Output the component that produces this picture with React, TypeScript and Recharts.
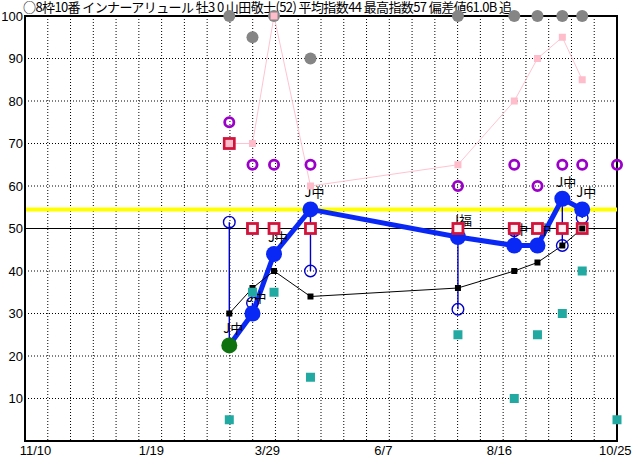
import React from 'react';
import { ComposedChart, Line, XAxis, YAxis, CartesianGrid, ReferenceLine, ReferenceArea } from 'recharts';

document.body.style.margin = '0';

const TITLE = '○8枠10番 インナーアリュール 牡3 0 山田敬士(52) 平均指数44 最高指数57 偏差値61.0B 追';

// x axis: days counted from 11/10
const xTicks = [0, 70, 140, 210, 280, 350];
const xTickLabels = ['11/10', '1/19', '3/29', '6/7', '8/16', '10/25'];
const yTicks = [10, 20, 30, 40, 50, 60, 70, 80, 90, 100];

const raceDays = [117, 131, 144, 166, 255, 289, 303, 318, 330, 351];
const mainIndex = [22.5, 30, 44, 54.5, 48, 46, 46, 57, 54.5, null];
const openIndex = [51.5, 32.5, null, 40, 31, 49.5, null, 46, 52.5, null];
const blackIndex = [30, 36, 40, 34, 36, 40, 42, 46, 50, null];
const redIndex = [70, 50, 50, 50, 50, 50, 50, 50, 50, null];
const pinkIndex = [70, 70, 100, 60, 65, 80, 90, 95, 85, null];
const purpleIndex = [75, 65, 65, 65, 60, 65, 60, 65, 65, 65];
const tealIndex = [5, 35, 35, 15, 25, 10, 25, 30, 40, 5];
const greyIndex = [100, 95, 100, 90, 100, 100, 100, 100, 100, null];
const raceLabels = ['J中', 'J中', 'J中', 'J中', 'J福', 'J中', 'J中', 'J中', 'J中', null];
const avgLine = 54.5;
const baseLine = 50;

const X_MIN = -6.3;
const X_MAX = 351;

const rows = raceDays.map((day, i) => ({
  day,
  main: mainIndex[i],
  open: openIndex[i],
  black: blackIndex[i],
  red: redIndex[i],
  pink: pinkIndex[i],
  purple: purpleIndex[i],
  teal: tealIndex[i],
  grey: greyIndex[i],
  label: raceLabels[i],
}));

const BLUE = '#0a28f5';

const makeDot = (draw: (cx: number, cy: number, i: number, p: any) => React.ReactElement) => (props: any) => {
  const { cx, cy, index, payload } = props;
  if (cx == null || cy == null || Number.isNaN(cy)) return <g key={`n${index}`} />;
  return <g key={`d${index}`}>{draw(cx, cy, index, payload)}</g>;
};

const greyDot = makeDot((cx, cy) => <circle cx={cx} cy={cy} r={6} fill="#858585" />);
const purpleDot = makeDot((cx, cy) => <circle cx={cx} cy={cy} r={4.6} fill="none" stroke="#9a00c8" strokeWidth={2.8} />);
const openDot = makeDot((cx, cy) => <circle cx={cx} cy={cy} r={5.8} fill="none" stroke="#0000c8" strokeWidth={1.4} />);
const labelDot = makeDot((cx, cy, i, p) => (
  <text x={cx - 6} y={cy - 12} fontSize={13} fontFamily="Noto Sans CJK JP" fill="#000">{p.label}</text>
));
const mainDot = makeDot((cx, cy, i) => <circle cx={cx} cy={cy} r={8} fill={i === 0 ? '#0e720e' : BLUE} />);
const redDot = makeDot((cx, cy) => (
  <rect x={cx - 5} y={cy - 5} width={10} height={10} fill="#fff0f3" stroke="#d2143c" strokeWidth={2.8} />
));
const pinkDot = makeDot((cx, cy) => <rect x={cx - 3.5} y={cy - 3.5} width={7} height={7} fill="#ffbccb" />);
const blackDot = makeDot((cx, cy) => <rect x={cx - 3} y={cy - 3} width={6} height={6} fill="#000" />);
const tealDot = makeDot((cx, cy) => <rect x={cx - 4.5} y={cy - 4.5} width={9} height={9} fill="#22aaa2" />);

const tickStyle = { fontSize: 13, fontFamily: 'Liberation Sans', fill: '#000' };

export default function App() {
  return (
    <div style={{ position: 'relative', width: 632, height: 460, background: '#fff', overflow: 'hidden' }}>
      <svg width={632} height={20} style={{ position: 'absolute', left: 0, top: 0 }}>
        <text
          x={23}
          y={12}
          fontSize={13}
          fontFamily="Noto Sans CJK JP"
          textLength={489}
          lengthAdjust="spacing"
          fill="#000"
        >
          {TITLE}
        </text>
      </svg>
      <div style={{ position: 'absolute', left: 0, top: 0 }}>
        <ComposedChart width={632} height={460} data={rows} margin={{ top: 16, right: 15, left: 0, bottom: 0 }}>
          <CartesianGrid
            stroke="#000"
            strokeDasharray="1 2"
            verticalCoordinatesGenerator={({ offset }: any) =>
              Array.from({ length: 25 }, (_, k) => offset.left + ((k + 1) * offset.width) / 26)
            }
          />
          <XAxis
            type="number"
            dataKey="day"
            domain={[X_MIN, X_MAX]}
            ticks={xTicks}
            interval={0}
            tickFormatter={(v: number) => xTickLabels[xTicks.indexOf(v)]}
            tick={tickStyle}
            tickLine={false}
            tickSize={0}
            tickMargin={5}
            axisLine={{ stroke: '#000', strokeWidth: 2 }}
            height={19}
          />
          <YAxis
            type="number"
            domain={[0, 100]}
            ticks={yTicks}
            interval={0}
            tick={tickStyle}
            tickLine={false}
            tickSize={0}
            tickMargin={2}
            axisLine={{ stroke: '#000', strokeWidth: 2 }}
            width={25}
          />
          <ReferenceLine y={avgLine} stroke="#ffff00" strokeWidth={4} />
          <ReferenceLine y={baseLine} stroke="#000" strokeWidth={1} />
          <ReferenceArea x1={X_MIN} x2={X_MAX} y1={0} y2={100} fill="none" stroke="#000" strokeWidth={2} />
          {rows
            .filter((r) => r.open != null && r.main != null)
            .map((r) => (
              <ReferenceLine
                key={`seg${r.day}`}
                segment={[
                  { x: r.day, y: r.main },
                  { x: r.day, y: r.open },
                ]}
                stroke="#0000c8"
                strokeWidth={1.4}
              />
            ))}
          <Line dataKey="grey" stroke="none" dot={greyDot} activeDot={false} isAnimationActive={false} />
          <Line dataKey="purple" stroke="none" dot={purpleDot} activeDot={false} isAnimationActive={false} />
          <Line dataKey="open" stroke="none" dot={openDot} activeDot={false} isAnimationActive={false} />
          <Line dataKey="main" stroke="none" dot={labelDot} activeDot={false} isAnimationActive={false} />
          <Line dataKey="main" stroke={BLUE} strokeWidth={5} dot={mainDot} activeDot={false} isAnimationActive={false} />
          <Line dataKey="red" stroke="none" dot={redDot} activeDot={false} isAnimationActive={false} />
          <Line dataKey="pink" stroke="#ffc4d0" strokeWidth={1} dot={pinkDot} activeDot={false} isAnimationActive={false} />
          <Line dataKey="black" stroke="#000" strokeWidth={1} dot={blackDot} activeDot={false} isAnimationActive={false} />
          <Line dataKey="teal" stroke="none" dot={tealDot} activeDot={false} isAnimationActive={false} />
        </ComposedChart>
      </div>
    </div>
  );
}
